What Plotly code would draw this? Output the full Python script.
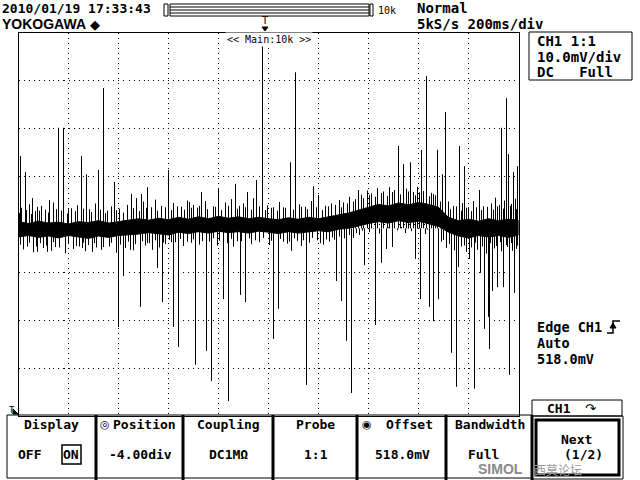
import plotly.graph_objects as go

# ---------------- data (time in ms, amplitude in mV relative to screen centre) ----------------
env_t = [0, 40, 80, 120, 160, 200, 240, 280, 320, 360, 400, 440, 480, 520, 560, 600, 640,
         680, 720, 760, 800, 840, 880, 920, 960, 1000, 1040, 1080, 1120, 1160, 1200, 1240,
         1280, 1320, 1360, 1400, 1440, 1480, 1520, 1560, 1600, 1640, 1680, 1720, 1760, 1800,
         1840, 1880, 1920, 1960, 2000]
env_upper_mv = [0.6, 0.2, 0.7, 0.3, 0.5, 0.1, 0.6, 0.4, 0.8, 0.3, 0.6, 0.9, 1.2,
                0.9, 1.3, 1.0, 1.5, 1.1, 1.6, 1.2, 1.7, 1.3, 1.6, 1.2, 1.5,
                1.2, 1.0, 1.4, 1.1, 1.5, 1.2, 1.6, 2.0,
                2.4, 3.0, 3.6, 4.2, 3.9, 4.5, 4.1, 4.6, 4.2, 3.6,
                1.5, 0.8, 1.1, 0.7, 1.2, 0.8, 1.1, 0.9]
env_lower_mv = [-2.6, -2.3, -2.7, -2.4, -2.8, -2.3, -2.6, -2.9, -2.4, -2.7, -2.3, -2.1, -2.0,
                -1.7, -2.0, -2.2, -1.6, -1.9, -1.5, -1.8, -1.4, -1.7, -1.5, -1.8, -1.4,
                -1.6, -1.9, -1.5, -1.8, -1.6, -1.3, -1.5, -1.0,
                -0.8, -0.3, 0.2, 0.6, 0.3, 0.8, 0.4, 0.7, 0.2, -0.4,
                -1.6, -2.4, -2.8, -2.3, -2.6, -2.3, -2.7, -2.2]

# noise hairs around the band (longer set)
hair_up_t = [12, 44, 68, 92, 108, 140, 172, 212, 236, 284, 308, 356, 372, 404, 436, 500, 532,
             548, 572, 620, 652, 676, 700, 716, 748, 780, 828, 852, 884, 900, 940, 996, 1020,
             1044, 1068, 1124, 1148, 1172, 1228, 1252, 1284, 1300, 1324, 1348, 1372, 1396,
             1412, 1436, 1460, 1484, 1504, 1552, 1580, 1596, 1620, 1652, 1668, 1720, 1740,
             1776, 1800, 1820, 1860, 1892, 1908, 1924, 1944, 1972, 1988]
hair_up_mv = [3.5, 4.2, 2.8, 3.9, 3.1, 4.6, 2.9, 3.4, 4.0, 3.2, 4.4, 2.9, 3.8, 3.3, 4.1, 4.8,
              3.6, 5.2, 3.9, 4.5, 3.7, 5.0, 4.1, 3.5, 4.9, 3.8, 4.6, 5.3, 3.9, 4.4, 5.5, 4.0,
              3.6, 4.7, 3.5, 4.2, 3.7, 4.9, 3.9, 4.4, 5.1, 4.6, 5.8, 5.3, 6.2, 7.1, 6.5, 7.6,
              6.9, 7.8, 7.2, 7.5, 6.8, 7.9, 7.0, 6.6, 6.1, 4.8, 3.9, 4.5, 3.6, 4.9, 3.8, 4.4,
              5.6, 4.1, 5.0, 4.3, 5.4]
hair_dn_t = [20, 36, 60, 100, 132, 148, 188, 220, 244, 268, 312, 332, 364, 392, 428, 460, 508,
             524, 564, 588, 612, 660, 692, 724, 764, 796, 836, 860, 876, 932, 964, 1004, 1060,
             1076, 1116, 1132, 1164, 1196, 1220, 1244, 1264, 1340, 1364, 1404, 1444, 1516,
             1548, 1572, 1628, 1692, 1712, 1744, 1772, 1792, 1812, 1836, 1872, 1904, 1932,
             1956, 1976, 1992]
hair_dn_mv = [-5.2, -4.6, -5.8, -4.9, -5.5, -4.7, -6.0, -5.1, -4.6, -5.6, -4.8, -5.3, -4.6,
              -5.9, -4.9, -5.4, -4.4, -3.9, -4.8, -4.1, -3.7, -4.5, -3.8, -4.2, -3.6, -4.4,
              -3.9, -4.6, -3.5, -4.1, -3.7, -4.3, -3.6, -4.0, -3.4, -4.5, -3.8, -3.3, -4.2,
              -3.6, -3.2, -2.8, -2.2, -1.6, -1.9, -1.2, -1.8, -1.4, -2.0, -3.6, -4.9, -5.4,
              -4.6, -5.7, -4.8, -5.3, -6.1, -5.0, -5.6, -4.7, -5.5, -5.1]

# noise hairs (shorter set)
hair2_up_t = [4, 32, 52, 84, 120, 152, 196, 228, 260, 292, 328, 348, 392, 420, 460, 484, 512,
              556, 588, 612, 636, 664, 692, 724, 756, 788, 812, 840, 876, 908, 932, 964, 988,
              1012, 1036, 1060, 1100, 1132, 1156, 1192, 1216, 1240, 1268, 1292, 1316, 1340,
              1380, 1404, 1428, 1452, 1476, 1496, 1528, 1560, 1588, 1604, 1644, 1660, 1688,
              1728, 1752, 1772, 1792, 1812, 1832, 1852, 1876, 1900, 1916, 1940, 1968, 1992]
hair2_up_mv = [2.4, 3.0, 2.2, 2.9, 2.5, 3.2, 2.3, 2.8, 3.3, 2.6, 3.1, 2.4, 3.0, 2.5, 3.4, 2.8,
               3.5, 2.9, 3.6, 3.0, 3.8, 3.1, 3.5, 3.9, 3.2, 3.7, 3.0, 3.9, 3.3, 3.6, 3.1, 3.8,
               3.0, 3.5, 2.9, 3.6, 3.1, 3.7, 3.2, 3.6, 3.0, 3.8, 4.1, 3.6, 4.4, 4.8, 5.5, 6.2,
               5.8, 6.6, 6.0, 6.8, 6.3, 6.9, 6.1, 6.7, 5.9, 6.4, 4.8, 3.2, 3.8, 2.9, 3.5, 2.8,
               3.6, 3.0, 3.7, 3.1, 3.8, 3.3, 3.9, 3.2]
hair2_dn_t = [8, 44, 72, 88, 112, 140, 164, 200, 232, 260, 280, 304, 340, 372, 408, 440, 468,
              496, 516, 548, 580, 604, 628, 648, 676, 700, 736, 780, 804, 852, 892, 924, 948,
              980, 1012, 1048, 1084, 1104, 1140, 1176, 1232, 1256, 1284, 1304, 1324, 1352,
              1376, 1420, 1480, 1532, 1560, 1596, 1616, 1636, 1700, 1724, 1760, 1784, 1828,
              1856, 1888, 1912, 1928, 1952, 1972, 1996]
hair2_dn_mv = [-4.2, -3.8, -4.6, -3.9, -4.4, -3.7, -4.8, -4.0, -4.5, -3.8, -4.3, -3.9, -4.7,
               -3.8, -4.2, -3.6, -4.1, -3.5, -3.9, -3.3, -3.8, -3.2, -3.7, -3.0, -3.6, -3.1,
               -3.5, -2.9, -3.4, -3.0, -3.5, -2.9, -3.3, -2.8, -3.4, -3.0, -3.6, -2.9, -3.3,
               -2.8, -3.1, -2.7, -2.5, -2.9, -2.2, -1.8, -1.3, -0.9, -0.6, -0.5, -0.9, -0.4,
               -0.8, -1.1, -3.2, -4.1, -3.7, -4.4, -3.8, -4.6, -3.9, -4.5, -3.7, -4.3, -3.9,
               -4.4]

spike_up_t = [8, 28, 56, 76, 124, 160, 180, 200, 252, 272, 320, 340, 384, 452, 472, 492, 516,
              600, 684, 732, 800, 868, 916, 952, 976, 1088, 1108, 1180, 1200, 1360, 1520, 1540,
              1568, 1612, 1632, 1676, 1696, 1708, 1764, 1784, 1844, 1932, 1952, 1960, 1980, 1996]
spike_up_mv = [14.3, 11.0, 5.5, 3.7, 5.1, 20.2, 20.2, 3.2, 14.3, 10.5, 11.4, 28.5, 8.9, 6.4,
               5.5, 6.4, 7.8, 11.4, 4.7, 6.8, 7.6, 8.5, 6.8, 9.3, 38.3, 13.0, 31.8, 8.0, 6.2,
               7.2, 16.4, 12.6, 13.0, 15.6, 31.0, 15.6, 10.5, 23.5, 16.4, 12.2, 7.2, 20.2, 26.4,
               14.7, 11.0, 12.2]

spike_dn_t = [76, 116, 256, 296, 400, 420, 448, 488, 536, 556, 576, 620, 640, 708, 752, 772,
              820, 840, 888, 908, 1020, 1040, 1092, 1152, 1208, 1272, 1292, 1312, 1332, 1384,
              1428, 1452, 1472, 1496, 1588, 1608, 1644, 1660, 1680, 1732, 1752, 1760, 1804,
              1824, 1848, 1864, 1880, 1884, 1896, 1916, 1940, 1964, 1984]
spike_dn_mv = [-5.7, -5.7, -4.9, -5.7, -21.4, -10.8, -5.3, -17.2, -5.3, -9.1, -16.2, -21.4,
               -25.6, -29.3, -26.4, -32.7, -15.6, -36.9, -14.7, -16.2, -23.9, -17.6, -5.5,
               -33.5, -3.9, -11.8, -16.0, -24.3, -35.2, -8.5, -21.0, -8.0, -5.1, -4.7, -7.2,
               -15.6, -17.2, -20.2, -15.6, -26.8, -33.9, -8.9, -7.2, -34.3, -10.1, -21.8,
               -19.3, -26.0, -13.9, -13.1, -13.1, -31.4, -14.3]

x_div_ticks = [200, 400, 600, 800, 1000, 1200, 1400, 1600, 1800]
y_div_ticks = [-30, -20, -10, 0, 10, 20, 30]

menu_labels = ["Display", "Position", "Coupling", "Probe", "Offset", "Bandwidth"]
menu_values = ["", "-4.00div", "DC1MΩ", "1:1", "518.0mV", "Full"]

# ---------------- figure ----------------
W, H = 640, 480
MONO = "DejaVu Sans Mono"


def fx(x):
    return x / W


def fy(y):
    return 1 - y / H


fig = go.Figure()

# noise band
band_x = env_t + env_t[::-1]
band_y = env_upper_mv + env_lower_mv[::-1]
fig.add_trace(go.Scatter(x=band_x, y=band_y, fill="toself", fillcolor="black",
                         mode="lines", line=dict(color="black", width=1),
                         hoverinfo="skip", showlegend=False))

# hairs + spikes
groups = [
    (hair_up_t + hair_dn_t, hair_up_mv + hair_dn_mv),
    (hair2_up_t + hair2_dn_t, hair2_up_mv + hair2_dn_mv),
    (spike_up_t + spike_dn_t, spike_up_mv + spike_dn_mv),
]
for ts, vs in groups:
    sx, sy = [], []
    for t, v in zip(ts, vs):
        sx += [t, t, None]
        sy += [-0.8, v, None]
    fig.add_trace(go.Scatter(x=sx, y=sy, mode="lines", line=dict(color="black", width=1),
                             hoverinfo="skip", showlegend=False))

axis_common = dict(showgrid=True, gridcolor="black", gridwidth=1, griddash="1px,4px",
                   showticklabels=False, ticks="", zeroline=False, showline=True,
                   linecolor="black", linewidth=1, mirror=True, fixedrange=True)
fig.update_layout(
    width=W, height=H, margin=dict(l=0, r=0, t=0, b=0), autosize=False,
    paper_bgcolor="white", plot_bgcolor="white",
    xaxis=dict(range=[0, 2000], domain=[fx(18.5), fx(518.5)], tickvals=x_div_ticks, **axis_common),
    yaxis=dict(range=[-40, 40], domain=[fy(416), fy(33)], tickvals=y_div_ticks, **axis_common),
)

annotations = []
shapes = []


def txt(x, y, s, size=13, anchor="left", bold=True, color="black", family=MONO, bg=None):
    d = dict(x=fx(x), y=fy(y), xref="paper", yref="paper", text=("<b>%s</b>" % s) if bold else s,
             showarrow=False, xanchor=anchor, yanchor="middle",
             font=dict(family=family, size=size, color=color))
    if bg:
        d["bgcolor"] = bg
    annotations.append(d)


def rect(x0, y0, x1, y1, w=1, fill=None):
    d = dict(type="rect", xref="paper", yref="paper", x0=fx(x0), y0=fy(y0), x1=fx(x1), y1=fy(y1),
             line=dict(color="black", width=w))
    if fill:
        d["fillcolor"] = fill
    shapes.append(d)


def line(x0, y0, x1, y1, w=1):
    shapes.append(dict(type="line", xref="paper", yref="paper", x0=fx(x0), y0=fy(y0),
                       x1=fx(x1), y1=fy(y1), line=dict(color="black", width=w)))


def tri(pts):
    p = "M " + " L ".join("%f %f" % (fx(a), fy(b)) for a, b in pts) + " Z"
    shapes.append(dict(type="path", xref="paper", yref="paper", path=p,
                       fillcolor="black", line=dict(color="black", width=1)))


# header
txt(0, 8, "2010/01/19 17:33:43", size=13)
txt(0, 24, "YOKOGAWA", size=14, family="Liberation Sans")
txt(88, 24, "◆", size=13, bold=False, family="DejaVu Sans")
txt(415, 8, "Normal", size=14)
txt(415, 24, "5kS/s 200ms/div", size=14)
txt(376, 10, "10k", size=10, bold=False)

# zoom bar
rect(164, 4, 168, 16)
rect(170, 4, 369, 16)
for yy in (7, 10, 13):
    line(170, yy, 369, yy)
rect(370, 4, 373, 16)

# trigger position marker
txt(265, 21, "T", size=10, anchor="center", bold=False)
tri([(262, 27), (268, 27), (265, 31)])
txt(269, 39, "<< Main:10k >>", size=10, anchor="center", bold=False, bg="white")

# trigger level marker bottom-left
txt(7, 410, "T", size=9, bold=False)
tri([(13, 409), (13, 414), (18, 414)])

# channel info box
rect(529, 32, 632, 80)
txt(535, 41, "CH1 1:1", size=14)
txt(535, 57, "10.0mV/div", size=14)
txt(535, 72, "DC   Full", size=14)

# trigger info
txt(535, 327, "Edge CH1", size=13.5)
shapes.append(dict(type="path", xref="paper", yref="paper",
                   path="M %f %f L %f %f L %f %f L %f %f" % (fx(607), fy(333), fx(613), fy(333),
                                                            fx(613), fy(321), fx(620), fy(321)),
                   line=dict(color="black", width=1.5)))
tri([(610, 328), (613, 323), (616, 328)])
txt(535, 343, "Auto", size=13.5)
txt(535, 359, "518.0mV", size=13.5)

# bottom menu
cells = [(7, 96), (97, 183), (184, 273), (274, 357), (358, 446), (447, 532)]
line(7, 415, 532, 415)
line(7, 478, 532, 478)
line(7, 415, 7, 478)
for (a, b) in cells[1:]:
    line(a - 1, 415, a - 1, 480, w=3)
line(532, 415, 532, 480, w=3)

for i, ((a, b), lab, val) in enumerate(zip(cells, menu_labels, menu_values)):
    c = (a + b) / 2
    if lab == "Position":
        txt(105, 424, "◎", size=11, anchor="center", bold=False, family="DejaVu Sans")
        txt(144, 424, lab, size=13, anchor="center")
    elif lab == "Offset":
        txt(367, 424, "◉", size=11, anchor="center", bold=False, family="DejaVu Sans")
        txt(409, 424, lab, size=13, anchor="center")
    else:
        txt(c, 424, lab, size=13, anchor="center")
    if val:
        vx = c if lab != "Offset" else 402
        if lab == "Bandwidth":
            vx = 483
        txt(vx, 454, val, size=13, anchor="center")

txt(16, 454, "OFF", size=13)
txt(71, 454, "ON", size=13, anchor="center")
rect(62, 445, 81, 464, w=1.5)

# CH1 and Next panel
rect(532, 400, 622, 416)
txt(545, 408, "CH1", size=13)
txt(583, 408, "↷", size=13, bold=False, family="DejaVu Sans")
rect(532, 416, 623, 479, w=1)
rect(536, 420, 619, 475, w=3)
txt(576, 439, "Next", size=13, anchor="center")
txt(583, 454, "(1/2)", size=13, anchor="center")

# watermark
txt(476, 469, "SIMOL", size=14, color="#8a8a8a", family="Liberation Sans", bold=True)
txt(532, 469, "西莫论坛", size=12, color="#9a9a9a", family="Noto Sans CJK SC", bold=False)

fig.update_layout(annotations=annotations, shapes=shapes)
fig.write_html("out.html", post_script="document.body.style.margin='0';",
               config={"displayModeBar": False, "staticPlot": True})
